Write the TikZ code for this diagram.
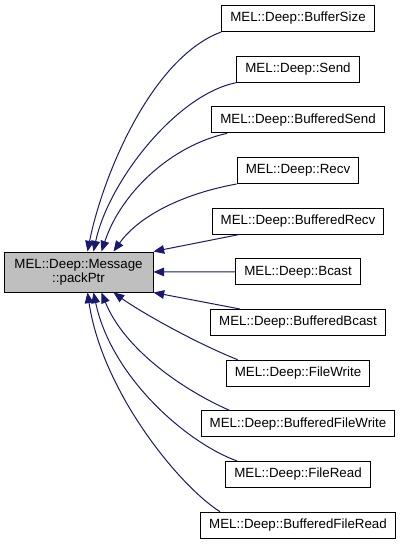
\documentclass[tikz,border=0pt]{standalone}
\usepackage{fontspec}
\setmainfont{Liberation Sans}
\usetikzlibrary{calc,arrows.meta,positioning}
\definecolor{calledge}{HTML}{191970}
\definecolor{focusgray}{HTML}{BFBFBF}

\begin{document}
\begin{tikzpicture}[x=0.75pt,y=-0.75pt,
  every node/.style={font=\fontsize{10}{10.5}\selectfont,align=center},
  fn/.style={draw=black,line width=0.75pt,fill=white,minimum height=19.5pt,inner xsep=6.5pt,inner ysep=0pt},
  call/.style={draw=calledge,line width=0.75pt,-{Triangle[length=8pt,width=6.5pt]}}]
\useasboundingbox (0,0) rectangle (401,544);
\node[fn,fill=focusgray,minimum width=111.75pt,minimum height=30pt] (msg) at (78.5,272) {MEL::Deep::Message\\::packPtr};
\node[fn] (bsize) at (298,18.5) {MEL::Deep::BufferSize};
\node[fn,below=17.75pt of bsize] (send) {MEL::Deep::Send};
\node[fn,below=17.75pt of send] (bsend) {MEL::Deep::BufferedSend};
\node[fn,below=17.75pt of bsend] (recv) {MEL::Deep::Recv};
\node[fn,below=17.75pt of recv] (brecv) {MEL::Deep::BufferedRecv};
\node[fn,below=17.75pt of brecv] (bcast) {MEL::Deep::Bcast};
\node[fn,below=17.75pt of bcast] (bbcast) {MEL::Deep::BufferedBcast};
\node[fn,below=17.75pt of bbcast] (fwrite) {MEL::Deep::FileWrite};
\node[fn,below=17.75pt of fwrite] (bfwrite) {MEL::Deep::BufferedFileWrite};
\node[fn,below=17.75pt of bfwrite] (fread) {MEL::Deep::FileRead};
\node[fn,below=17.75pt of fread] (bfread) {MEL::Deep::BufferedFileRead};
% callers above the focus node
\draw[call] (bsize.south west) .. controls +(-70,26) and +(15,-75) .. ($(msg.north west)+(84,0)$);
\draw[call] (send.south west) .. controls +(-60,12) and +(15,-70) .. ($(msg.north west)+(90,0)$);
\draw[call] ($(bsend.south west)+(16,0)$) .. controls +(-55,12) and +(20,-60) .. ($(msg.north west)+(98,0)$);
\draw[call] (recv.south west) .. controls +(-55,10) and +(25,-35) .. ($(msg.north west)+(110,0)$);
\draw[call] ($(brecv.south west)+(27,0)$) -- (msg.north east);
\draw[call] (bcast) -- (msg);
% callers below the focus node
\draw[call] ($(bbcast.north west)+(30,0)$) -- (msg.south east);
\draw[call] ($(fwrite.north west)+(12,0)$) .. controls +(-45,-18) and +(25,18) .. ($(msg.south west)+(110,0)$);
\draw[call] ($(bfwrite.north west)+(29,0)$) .. controls +(-50,-22) and +(22,55) .. ($(msg.south west)+(98,0)$);
\draw[call] ($(fread.north west)+(12,0)$) .. controls +(-50,-18) and +(18,85) .. ($(msg.south west)+(90,0)$);
\draw[call] ($(bfread.north west)+(20,0)$) .. controls +(-40,-25) and +(15,100) .. ($(msg.south west)+(84,0)$);
\end{tikzpicture}
\end{document}
